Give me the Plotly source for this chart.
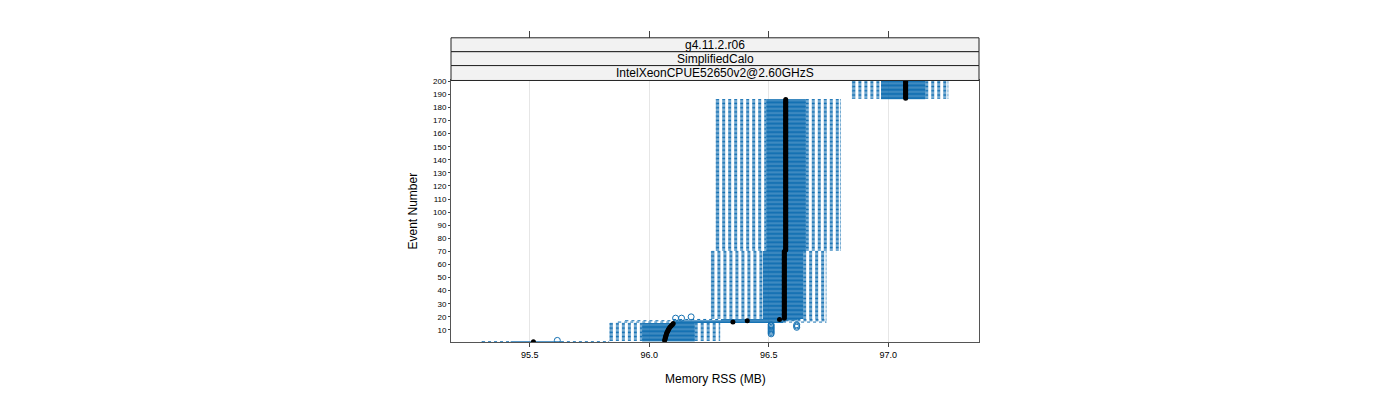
import plotly.graph_objects as go

# ---------------- data ----------------
# Individually read events: event, lower whisker, Q1, median, Q3, upper whisker
single_event   = [1, 2, 3, 4, 5, 6, 7, 8, 9, 10, 11, 12, 13, 14, 15, 16, 17, 18]
single_lo_whis = [95.30, 95.835, 95.835, 95.835, 95.835, 95.835, 95.835, 95.835, 95.835,
                  95.835, 95.835, 95.835, 95.835, 95.835, 95.835, 95.87, 95.90, 96.10]
single_q1      = [95.42, 95.97, 95.97, 95.97, 95.97, 95.97, 95.97, 95.97, 95.97,
                  95.97, 95.97, 95.97, 95.97, 95.97, 95.97, 96.10, 96.11, 96.30]
single_median  = [95.515, 96.064, 96.066, 96.067, 96.069, 96.070, 96.072, 96.074, 96.077,
                  96.079, 96.082, 96.086, 96.091, 96.096, 96.100, 96.35, 96.41, 96.545]
single_q3      = [95.63, 96.19, 96.19, 96.19, 96.19, 96.19, 96.19, 96.19, 96.19,
                  96.19, 96.19, 96.19, 96.19, 96.19, 96.19, 96.56, 96.57, 96.62]
single_hi_whis = [95.83, 96.295, 96.295, 96.295, 96.295, 96.295, 96.295, 96.295, 96.295,
                  96.295, 96.295, 96.295, 96.295, 96.295, 96.295, 96.74, 96.74, 96.74]

# Blocks of consecutive events sharing the same (read) statistics
block_first    = [19, 71, 187]
block_last     = [70, 186, 200]
block_lo_whis  = [96.26, 96.28, 96.85]
block_q1       = [96.476, 96.49, 96.97]
block_median   = [96.565, 96.571, 97.073]
block_q3       = [96.644, 96.655, 97.155]
block_hi_whis  = [96.74, 96.80, 97.25]

# Outliers
outlier_event = [2, 7, 8, 9, 10, 11, 12, 13, 14, 12, 13, 14, 19, 19, 20]
outlier_value = [95.615, 96.51, 96.51, 96.51, 96.51, 96.51, 96.51, 96.51, 96.51,
                 96.617, 96.617, 96.617, 96.11, 96.135, 96.175]

x_ticks = [95.5, 96.0, 96.5, 97.0]
x_tick_labels = ["95.5", "96.0", "96.5", "97.0"]
y_ticks = list(range(10, 201, 10))

strip_labels = ["g4.11.2.r06", "SimplifiedCalo", "IntelXeonCPUE52650v2@2.60GHzS"]

# ---------------- assemble per-event stats ----------------
ev, lo, q1, md, q3, hi = [], [], [], [], [], []
for i, e in enumerate(single_event):
    ev.append(e); lo.append(single_lo_whis[i]); q1.append(single_q1[i])
    md.append(single_median[i]); q3.append(single_q3[i]); hi.append(single_hi_whis[i])
for b in range(len(block_first)):
    for e in range(block_first[b], block_last[b] + 1):
        ev.append(e); lo.append(block_lo_whis[b]); q1.append(block_q1[b])
        md.append(block_median[b]); q3.append(block_q3[b]); hi.append(block_hi_whis[b])

BLUE = "#1571b3"
H = 0.25  # half box height (box.ratio = 1)

wx, wy = [], []     # dashed whiskers
sx, sy = [], []     # staples
bx, by = [], []     # boxes
for e, a, b, m, c, d in zip(ev, lo, q1, md, q3, hi):
    wx += [a, b, None, c, d, None]
    wy += [e, e, None, e, e, None]
    sx += [a, a, None, d, d, None]
    sy += [e - H, e + H, None, e - H, e + H, None]
    bx += [b, c, c, b, b, None]
    by += [e - H, e - H, e + H, e + H, e - H, None]

fig = go.Figure()
fig.add_trace(go.Scatter(x=wx, y=wy, mode="lines", hoverinfo="skip",
                         line=dict(color=BLUE, width=1, dash="3px,3px")))
fig.add_trace(go.Scatter(x=sx, y=sy, mode="lines", hoverinfo="skip",
                         line=dict(color=BLUE, width=1)))
fig.add_trace(go.Scatter(x=bx, y=by, mode="lines", hoverinfo="skip",
                         line=dict(color=BLUE, width=1)))
fig.add_trace(go.Scatter(x=outlier_value, y=outlier_event, mode="markers", hoverinfo="skip",
                         marker=dict(color=BLUE, size=6, symbol="circle-open",
                                     line=dict(width=1, color=BLUE))))
fig.add_trace(go.Scatter(x=md, y=ev, mode="markers", hoverinfo="skip",
                         marker=dict(color="black", size=5, symbol="circle")))
# invisible trace so the top tick axis is drawn
fig.add_trace(go.Scatter(x=[x_ticks[0]], y=[ev[0]], xaxis="x2", mode="markers",
                         marker=dict(opacity=0), hoverinfo="skip"))

W, Hpx = 1400, 400
OFF = 8  # page body margin of the html page
px_left, px_right, px_top, px_bottom = 451 - OFF, 979 - OFF, 78 - OFF, 342 - OFF
dx = [px_left / W, px_right / W]
dy = [(Hpx - px_bottom) / Hpx, (Hpx - px_top) / Hpx]

def py(p):
    return (Hpx - (p - OFF)) / Hpx

def pxf(p):
    return (p - OFF) / W

FONT = "Liberation Sans, Arial, sans-serif"
fig.update_layout(
    width=W, height=Hpx, showlegend=False,
    margin=dict(l=0, r=0, t=0, b=0),
    paper_bgcolor="white", plot_bgcolor="white",
    font=dict(family=FONT, color="black"),
    xaxis=dict(domain=dx, range=[95.17, 97.38], tickvals=x_ticks, ticktext=x_tick_labels,
               ticks="outside", ticklen=4, tickcolor="#444", tickfont=dict(size=9),
               showgrid=True, gridcolor="#e6e6e6", gridwidth=1, zeroline=False,
               showline=True, linecolor="#555", linewidth=1, mirror=True, anchor="y"),
    xaxis2=dict(matches="x", overlaying="x", side="top", anchor="free",
                position=py(35), tickvals=x_ticks, ticks="outside",
                ticklen=7, tickcolor="#444", showticklabels=False, showgrid=False,
                showline=False, zeroline=False),
    yaxis=dict(domain=dy, range=[0.4, 200.6], tickvals=y_ticks, ticks="outside",
               ticklen=2, tickcolor="#444", tickfont=dict(size=8),
               showgrid=False, zeroline=False, showline=True, linecolor="#555",
               linewidth=1, mirror=True),
)

# strips
strip_px = [(35, 49), (49, 63), (63, 78)]
for (t, b), lab in zip(strip_px, strip_labels):
    fig.add_shape(type="rect", xref="paper", yref="paper", x0=dx[0], x1=dx[1],
                  y0=py(b), y1=py(t),
                  fillcolor="#f2f2f2", line=dict(color="#222", width=1), layer="above")
    fig.add_annotation(xref="paper", yref="paper", x=(dx[0] + dx[1]) / 2,
                       y=py((t + b) / 2), text=lab, showarrow=False,
                       font=dict(size=12, family=FONT, color="black"),
                       xanchor="center", yanchor="middle")

fig.add_annotation(xref="paper", yref="paper", x=(dx[0] + dx[1]) / 2, y=py(379),
                   text="Memory RSS (MB)", showarrow=False, font=dict(size=12, family=FONT),
                   xanchor="center", yanchor="middle")
fig.add_annotation(xref="paper", yref="paper", x=pxf(413), y=(dy[0] + dy[1]) / 2,
                   text="Event Number", showarrow=False, textangle=-90,
                   font=dict(size=12, family=FONT), xanchor="center", yanchor="middle")

fig.write_html("out.html")
